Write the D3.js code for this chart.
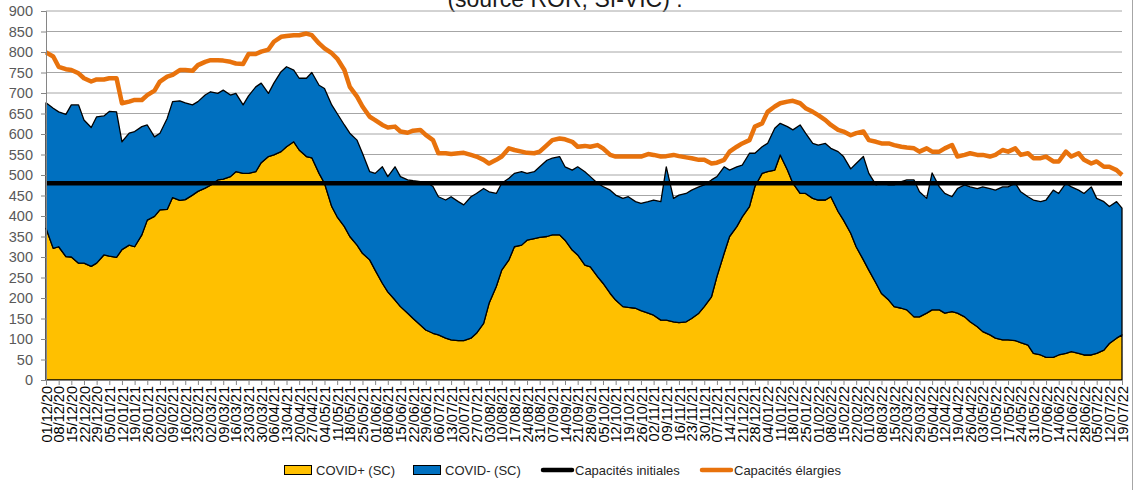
<!DOCTYPE html>
<html>
<head>
<meta charset="utf-8">
<script src="https://cdn.jsdelivr.net/npm/d3@7"></script>
<style>
  body { margin: 0; background: #fff; }
  text { font-family: "Liberation Sans", Arial, sans-serif; }
</style>
</head>
<body>
<svg id="chart" width="1141" height="490"></svg>
<script>
// weekly dates = x tick labels
var weekLabels = ["01/12/20","08/12/20","15/12/20","22/12/20","29/12/20","05/01/21","12/01/21","19/01/21","26/01/21",
  "02/02/21","09/02/21","16/02/21","23/02/21","02/03/21","09/03/21","16/03/21","23/03/21","30/03/21",
  "06/04/21","13/04/21","20/04/21","27/04/21","04/05/21","11/05/21","18/05/21","25/05/21",
  "01/06/21","08/06/21","15/06/21","22/06/21","29/06/21","06/07/21","13/07/21","20/07/21","27/07/21",
  "03/08/21","10/08/21","17/08/21","24/08/21","31/08/21","07/09/21","14/09/21","21/09/21","28/09/21",
  "05/10/21","12/10/21","19/10/21","26/10/21","02/11/21","09/11/21","16/11/21","23/11/21","30/11/21",
  "07/12/21","14/12/21","21/12/21","28/12/21","04/01/22","11/01/22","18/01/22","25/01/22",
  "01/02/22","08/02/22","15/02/22","22/02/22","01/03/22","08/03/22","15/03/22","22/03/22","29/03/22",
  "05/04/22","12/04/22","19/04/22","26/04/22","03/05/22","10/05/22","17/05/22","24/05/22","31/05/22",
  "07/06/22","14/06/22","21/06/22","28/06/22","05/07/22","12/07/22","19/07/22"];

// values read twice a week: on each tick date and 4 days later
var covidPlus = [370,321,325,301,300,285,285,277,285,305,302,299,318,329,325,354,390,399,415,416,
  445,438,440,451,460,468,475,488,490,496,508,504,504,508,530,545,549,557,569,581,
  561,545,542,504,480,423,398,374,350,329,309,293,268,236,215,195,179,163,150,134,
  122,114,110,102,98,96,96,102,114,138,187,228,268,293,325,329,341,345,348,350,
  354,354,341,317,305,280,276,252,236,211,195,179,177,175,169,163,158,146,146,142,
  140,142,150,163,179,203,252,309,350,374,398,423,472,504,508,512,549,512,480,455,
  455,443,439,439,447,411,390,358,325,293,268,236,211,195,179,175,171,154,154,163,
  171,171,163,167,163,154,142,130,118,110,102,98,98,96,91,85,65,61,55,55,
  61,65,69,65,61,61,65,73,89,102,110];

var covidMinus = [306,342,329,347,371,386,349,339,357,339,353,355,263,273,281,264,232,194,187,222,
  234,243,236,220,219,227,228,211,217,199,191,167,189,207,194,154,175,195,195,175,
  175,191,208,215,231,248,252,248,252,256,244,215,236,284,281,325,317,325,336,350,
  362,358,337,337,349,339,331,345,341,329,272,227,212,199,179,179,163,163,172,186,
  187,191,179,195,215,228,220,228,236,252,256,264,270,260,262,272,281,289,374,301,
  311,313,313,308,297,285,244,211,162,146,126,130,81,65,69,102,77,106,130,167,
  147,134,134,138,118,146,155,157,203,252,236,240,269,281,297,309,317,334,305,280,
  334,300,292,280,304,322,329,337,353,357,361,373,373,384,368,362,374,374,384,408,
  394,415,402,398,394,410,378,362,334,333,309];

var capaInitiales = 480;

var capaElargies = [799,789,764,758,756,748,736,728,733,733,736,736,675,679,683,683,695,706,728,740,
  744,756,756,754,768,776,780,780,779,776,772,771,795,795,801,806,825,837,839,841,
  841,845,841,821,809,797,784,756,715,691,667,642,634,622,616,618,606,603,608,610,
  598,585,553,553,551,553,554,549,545,537,528,537,545,565,561,557,554,553,557,573,
  585,589,587,581,569,571,569,573,565,549,545,545,545,545,545,551,549,545,546,549,
  546,543,541,537,537,528,530,537,557,569,577,585,618,626,654,667,675,679,681,675,
  663,654,646,634,622,610,606,597,602,606,585,581,577,577,573,569,567,565,557,565,
  557,557,565,573,545,549,553,549,549,545,549,561,557,565,549,553,541,541,545,533,
  533,557,545,553,537,528,533,520,520,512,500];

var parse = d3.timeParse("%d/%m/%y"),
  fmt = d3.timeFormat("%d/%m/%y");
var weekDates = weekLabels.map(parse);
var sampleDates = [];
weekDates.forEach(function(d, i) {
  sampleDates.push(d);
  if (i < weekDates.length - 1) sampleDates.push(d3.timeDay.offset(d, 4));
});

var svg = d3.select("#chart"),
  plotLeft = 46, plotRight = 1122, plotTop = 11, plotBottom = 380;

var x = d3.scaleTime().domain([weekDates[0], weekDates[weekDates.length - 1]]).range([plotLeft, plotRight]);
var y = d3.scaleLinear().domain([0, 900]).range([plotBottom, plotTop]);

var rows = sampleDates.map(function(d, i) {
  return {date: d, plus: covidPlus[i], minus: covidMinus[i], elargies: capaElargies[i]};
});
var series = d3.stack().keys(["plus", "minus"])(rows);
var colors = {plus: "#ffc000", minus: "#0070c0"};

// title (only its last line shows, cut at the top)
svg.append("text")
  .attr("x", 565).attr("y", 6.5)
  .attr("text-anchor", "middle")
  .style("font-size", "23px").style("fill", "#1a1a1a")
  .text("(source ROR, SI-VIC) :");

// gridlines
svg.append("g").selectAll("line")
  .data(d3.range(50, 901, 50))
  .enter().append("line")
  .attr("x1", plotLeft).attr("x2", plotRight)
  .attr("y1", function(d) { return y(d); }).attr("y2", function(d) { return y(d); })
  .style("stroke", "#a6a6a6").style("stroke-width", 1);

// stacked areas
var area = d3.area()
  .x(function(d) { return x(d.data.date); })
  .y0(function(d) { return y(d[0]); })
  .y1(function(d) { return y(d[1]); });

svg.append("g").selectAll("path")
  .data(series)
  .enter().append("path")
  .attr("d", area)
  .style("fill", function(d) { return colors[d.key]; })
  .style("stroke", "#000").style("stroke-width", 1.3).style("stroke-linejoin", "round");

// capacities
svg.append("line")
  .attr("x1", plotLeft).attr("x2", plotRight)
  .attr("y1", y(capaInitiales)).attr("y2", y(capaInitiales))
  .style("stroke", "#000").style("stroke-width", 4.5);

var line = d3.line()
  .x(function(d) { return x(d.date); })
  .y(function(d) { return y(d.elargies); });

svg.append("path")
  .datum(rows)
  .attr("d", line)
  .style("fill", "none").style("stroke", "#e8720c").style("stroke-width", 4.5)
  .style("stroke-linejoin", "round");

// axes
var yAxis = svg.append("g").attr("transform", "translate(" + plotLeft + ",0)")
  .call(d3.axisLeft(y).tickValues(d3.range(0, 901, 50)).tickSize(5).tickPadding(8));
yAxis.select(".domain").style("stroke", "#868686");
yAxis.selectAll(".tick line").style("stroke", "#868686");
yAxis.selectAll("text").style("font-size", "14.5px").style("fill", "#595959")
  .style("font-family", "Liberation Sans, Arial, sans-serif");

var xAxis = svg.append("g").attr("transform", "translate(0," + plotBottom + ")")
  .call(d3.axisBottom(x).tickValues(weekDates).tickFormat(fmt).tickSize(5).tickSizeOuter(0));
xAxis.select(".domain").style("stroke", "#868686");
xAxis.selectAll(".tick line").style("stroke", "#868686");
xAxis.selectAll("text")
  .attr("transform", "rotate(-90)")
  .attr("x", -6).attr("y", 0).attr("dy", "0.35em")
  .style("text-anchor", "end")
  .style("font-size", "14.5px").style("fill", "#000")
  .style("font-family", "Liberation Sans, Arial, sans-serif");

// right border of the chart area
svg.append("line")
  .attr("x1", 1132.5).attr("x2", 1132.5).attr("y1", 0).attr("y2", 490)
  .style("stroke", "#a6a6a6");

// legend
var legendItems = [
  {label: "COVID+ (SC)", type: "rect", color: "#ffc000", x: 284},
  {label: "COVID- (SC)", type: "rect", color: "#0070c0", x: 413},
  {label: "Capacités initiales", type: "line", color: "#000", x: 543},
  {label: "Capacités élargies", type: "line", color: "#e8720c", x: 702}
];
var lg = svg.append("g").attr("transform", "translate(0,470)");
var item = lg.selectAll("g").data(legendItems).enter().append("g")
  .attr("transform", function(d) { return "translate(" + d.x + ",0)"; });
item.filter(function(d) { return d.type === "rect"; }).append("rect")
  .attr("x", 0.5).attr("y", -4.5).attr("width", 27).attr("height", 9)
  .style("fill", function(d) { return d.color; }).style("stroke", "#000").style("stroke-width", 1);
item.filter(function(d) { return d.type === "line"; }).append("line")
  .attr("x1", 0).attr("x2", 29).attr("y1", 0).attr("y2", 0)
  .style("stroke", function(d) { return d.color; }).style("stroke-width", 4.5)
  .style("stroke-linecap", "round");
item.append("text")
  .attr("x", 32).attr("dy", "0.35em")
  .style("font-size", "13px").style("fill", "#262626")
  .text(function(d) { return d.label; });
</script>
</body>
</html>
